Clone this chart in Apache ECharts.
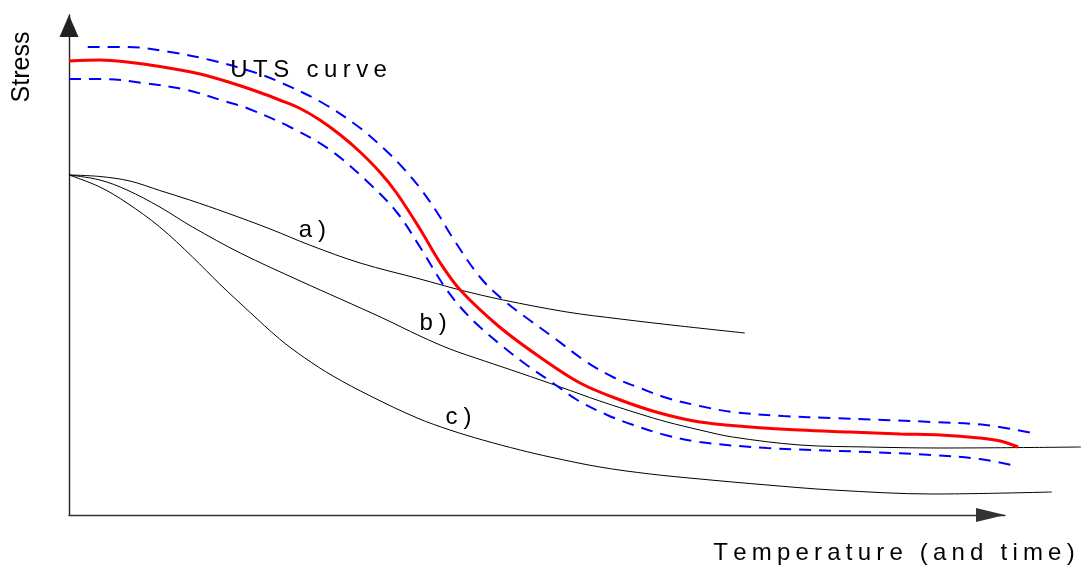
<!DOCTYPE html>
<html>
<head>
<meta charset="utf-8">
<script src="https://cdn.jsdelivr.net/npm/echarts@6/dist/echarts.min.js"></script>
<style>html,body{margin:0;padding:0;background:#fff}#chart{width:1081px;height:566px}</style>
</head>
<body>
<div id="chart"></div>
<script>
// Values (arbitrary units: x 0-100 = tip of the temperature arrow, y 0-100 = tip of the stress arrow)
const utsCurve = [[0,90.8],[3.3,91.0],[6.2,90.6],[9.7,89.7],[14.0,88.2],[17.2,86.5],[20.4,84.5],[22.5,83.0],[24.7,81.3],[26.8,79.0],[29.0,76.0],[31.1,72.6],[33.2,68.6],[35.0,64.4],[37.5,57.2],[39.6,50.6],[41.8,45.0],[46.0,37.6],[50.3,31.6],[54.6,26.4],[58.9,23.0],[63.1,20.4],[67.4,18.6],[72.8,17.6],[78.1,17.0],[83.4,16.6],[88.8,16.2],[93.1,16.0],[97.3,15.4],[99.5,14.8],[101.4,13.6]];
const utsUpper = [[2.0,93.6],[6.2,93.6],[10.8,92.6],[15.1,91.0],[19.7,88.6],[22.5,86.6],[27.1,82.4],[31.1,77.4],[33.8,73.0],[35.7,69.4],[37.5,65.4],[39.3,60.6],[41.0,55.4],[43.9,47.6],[46.4,43.0],[48.9,39.4],[51.7,35.6],[55.3,30.6],[58.1,27.6],[61.0,25.4],[63.9,23.4],[67.4,21.8],[70.9,20.6],[76.3,19.8],[81.6,19.4],[92.3,18.6],[97.9,18.0],[102.9,16.4]];
const utsLower = [[0,87.2],[3.6,87.2],[7.9,86.4],[12.6,85.0],[16.9,82.6],[19.0,81.4],[23.6,77.6],[27.9,73.0],[31.8,66.8],[35.0,60.6],[37.5,53.6],[40.0,46.0],[41.8,41.6],[43.9,37.6],[46.4,33.6],[48.9,30.0],[51.7,26.4],[54.3,23.0],[57.5,20.0],[60.3,18.0],[63.7,16.0],[67.4,14.6],[74.6,13.4],[85.3,12.6],[92.3,12.0],[97.3,11.2],[100.7,10.0]];
const curveA = [[0,68.0],[3.3,67.7],[6.5,66.8],[9.7,64.9],[12.9,63.0],[16.9,60.4],[21.5,57.2],[25.7,54.0],[31.1,50.4],[37.5,47.2],[41.8,45.0],[46.4,43.0],[53.2,40.6],[58.9,39.2],[65.3,37.8],[72.2,36.4]];
const curveB = [[0,68.0],[3.3,67.0],[6.2,65.0],[9.7,61.6],[13.2,57.6],[18.3,52.4],[24.7,46.8],[29.0,43.2],[33.5,39.4],[37.5,35.8],[40.7,33.2],[44.4,30.8],[48.2,28.4],[52.5,25.6],[56.7,22.8],[61.0,20.2],[63.9,18.6],[67.4,17.0],[70.9,15.6],[78.1,14.0],[85.3,13.6],[93.1,13.4],[108.1,13.6]];
const curveC = [[0,68.0],[3.3,65.6],[6.2,62.4],[9.7,57.6],[13.2,51.6],[16.1,46.2],[19.3,40.6],[22.5,35.2],[25.2,31.4],[28.2,27.8],[32.2,23.8],[37.2,19.4],[40.7,17.0],[44.2,15.0],[48.2,13.0],[51.4,11.6],[56.7,9.6],[62.1,8.2],[67.4,7.2],[74.6,6.0],[81.6,5.0],[92.3,4.2],[105.0,4.6]];

const labelUTS = 'UTS curve';
const labelA = 'a)';
const labelB = 'b)';
const labelC = 'c)';
const xTitle = 'Temperature (and time)';
const yTitle = 'Stress';

const FONT = '"Liberation Sans", Arial, Helvetica, sans-serif';
function spaced(t){ return t.split('').map(ch => '{s|' + ch + '}').join(''); }
function richSpaced(size, pad){ return { s: { fontSize: size, fontFamily: FONT, color: '#000', padding: [0, pad, 0, pad] } }; }

function annot(text, coord, size, pad){
  return {
    symbol: 'circle', symbolSize: 0, silent: true, animation: false,
    label: { show: true, position: 'inside', formatter: () => spaced(text), rich: richSpaced(size, pad) },
    data: [{ coord: coord }]
  };
}

function curve(name, data, color, width, type, mark){
  const s = {
    name, type: 'line', data, smooth: 0.35, symbol: 'none', silent: true,
    xAxisIndex: 0, yAxisIndex: 0,
    animation: false, lineStyle: { color, width, type }, z: width > 2 ? 4 : 3
  };
  if (mark) s.markPoint = mark;
  return s;
}

const hiddenAxis = { show: false, axisLine: { show: false }, axisTick: { show: false }, axisLabel: { show: false }, splitLine: { show: false } };

const chart = echarts.init(document.getElementById('chart'), null, { renderer: 'canvas' });
chart.setOption({
  backgroundColor: '#fff',
  animation: false,
  grid: [
    { left: 69, right: 0, top: 15, bottom: 51, containLabel: false },
    { left: 69, right: 76, top: 15, bottom: 51, containLabel: false }
  ],
  xAxis: [
    Object.assign({ type: 'value', gridIndex: 0, min: 0, max: 108.12 }, hiddenAxis),
    {
      type: 'value', gridIndex: 1, min: 0, max: 100,
      axisLine: { show: true, lineStyle: { color: '#333', width: 1.4 }, symbol: ['none', 'triangle'], symbolSize: [14, 29], symbolOffset: [0, -14.5] },
      axisTick: { show: false }, axisLabel: { show: false }, splitLine: { show: false }
    }
  ],
  yAxis: [
    Object.assign({ type: 'value', gridIndex: 0, min: 0, max: 100 }, hiddenAxis),
    {
      type: 'value', gridIndex: 1, min: 0, max: 100,
      axisLine: { show: true, lineStyle: { color: '#222', width: 1.4 }, symbol: ['none', 'triangle'], symbolSize: [19, 22], symbolOffset: [0, -11] },
      axisTick: { show: false }, axisLabel: { show: false }, splitLine: { show: false }
    }
  ],
  series: [
    curve('a', curveA, '#000', 1, 'solid', annot(labelA, [26.0, 57.0], 24, 3)),
    curve('b', curveB, '#000', 1, 'solid', annot(labelB, [38.9, 38.4], 24, 3)),
    curve('c', curveC, '#000', 1, 'solid', annot(labelC, [41.6, 19.6], 24, 3)),
    curve('UTS upper', utsUpper, '#0000ff', 2, [12, 8]),
    curve('UTS lower', utsLower, '#0000ff', 2, [12, 8]),
    curve('UTS', utsCurve, '#ff0000', 3, 'solid', annot(labelUTS, [25.6, 89.0], 24, 2.7))
  ],
  graphic: [
    { type: 'text', x: 894, y: 553, silent: true,
      style: { text: spaced(xTitle), rich: richSpaced(24, 2.6), align: 'center', verticalAlign: 'middle', fill: '#000' } },
    { type: 'text', x: 22, y: 67, rotation: Math.PI / 2, silent: true,
      style: { text: yTitle, font: '25px ' + FONT, align: 'center', verticalAlign: 'middle', fill: '#000' } }
  ]
});
</script>
</body>
</html>
